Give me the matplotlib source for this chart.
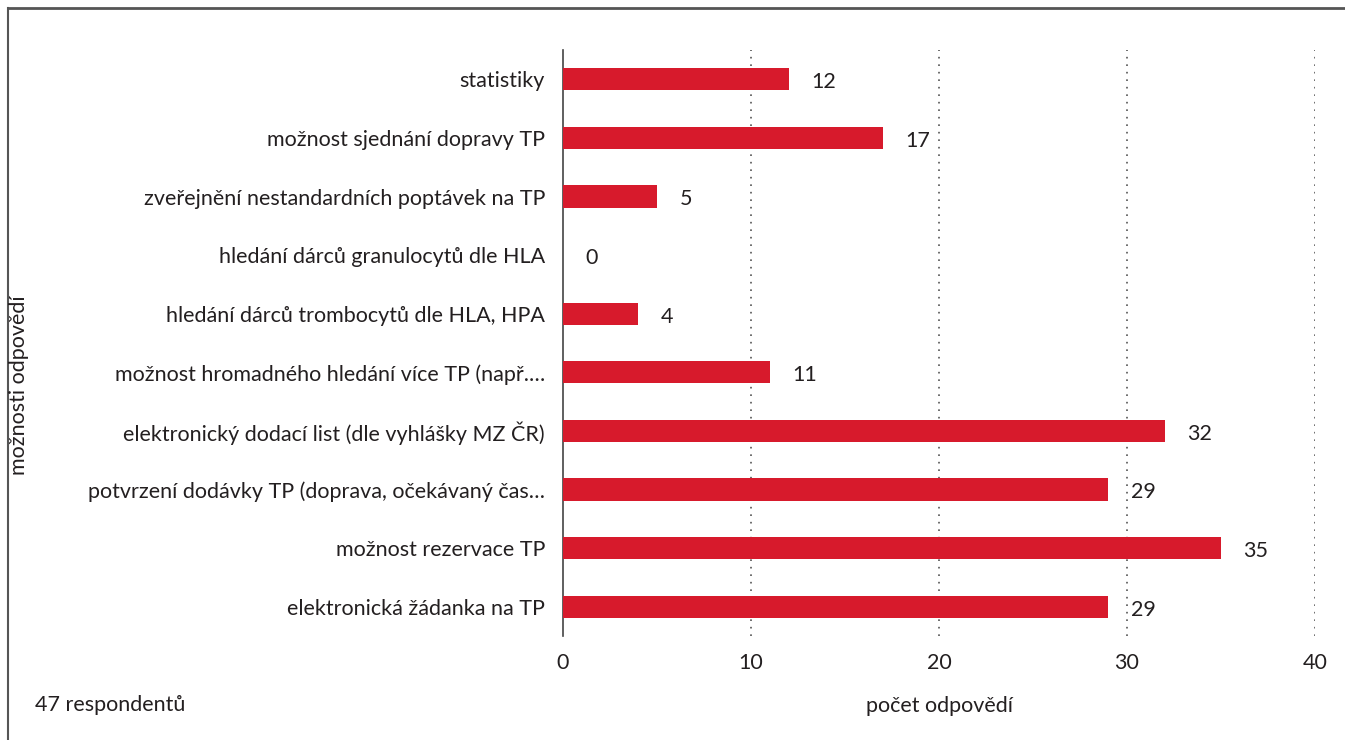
import numpy as np
import matplotlib.pyplot as plt
from matplotlib.lines import Line2D

plt.rcParams['font.family'] = ['Lato', 'DejaVu Sans']

# survey answers, top to bottom as shown
labels = [
    'statistiky',
    'možnost sjednání dopravy TP',
    'zveřejnění nestandardních poptávek na TP',
    'hledání dárců granulocytů dle HLA',
    'hledání dárců trombocytů dle HLA, HPA',
    'možnost hromadného hledání více TP (např.…',
    'elektronický dodací list (dle vyhlášky MZ ČR)',
    'potvrzení dodávky TP (doprava, očekávaný čas…',
    'možnost rezervace TP',
    'elektronická žádanka na TP',
]
counts = [12, 17, 5, 0, 4, 11, 32, 29, 35, 29]
xticks = [0, 10, 20, 30, 40]

red = '#d71a2c'
txt = '#231f20'
fs = 15.5

fig = plt.figure(figsize=(13.45, 7.4), dpi=100)
ax = fig.add_axes([0.4186, 0.1405, 0.5591, 0.7919])

y = np.arange(len(labels))
ax.barh(y, counts, height=0.38, color=red, zorder=3)
for yi, c in zip(y, counts):
    ax.text(c + 1.2, yi + 0.05, str(c), va='center', ha='left',
            fontsize=fs, color=txt)

ax.set_ylim(len(labels) - 0.5, -0.5)
ax.set_xlim(0, 40)
ax.set_yticks(y)
ax.set_yticklabels(labels, fontsize=fs, color=txt)
ax.set_xticks(xticks)
ax.set_xticklabels([str(t) for t in xticks], fontsize=fs, color=txt)
ax.tick_params(axis='both', length=0)
ax.tick_params(axis='y', pad=13)
ax.tick_params(axis='x', pad=12)

for t in xticks[1:]:
    ax.axvline(t, color='#555555', lw=1.2, ls=(0, (1, 3.5)), zorder=1)

for s in ['top', 'right', 'bottom']:
    ax.spines[s].set_visible(False)
ax.spines['left'].set_color('#444444')
ax.spines['left'].set_linewidth(1.2)

fig.text(940 / 1345, 1 - 706 / 740, 'počet odpovědí', ha='center', va='center',
         fontsize=fs, color=txt)
fig.text(35 / 1345, 1 - 705 / 740, '47 respondentů', ha='left', va='center',
         fontsize=fs, color=txt)
fig.text(19 / 1345, 1 - 385 / 740, 'možnosti odpovědí', ha='center', va='center',
         rotation=90, fontsize=fs, color=txt)

# frame around the figure (only top and left edge visible)
fig.add_artist(Line2D([8 / 1345, 1], [1 - 8 / 740, 1 - 8 / 740],
                      transform=fig.transFigure, color='#555555', lw=2))
fig.add_artist(Line2D([8 / 1345, 8 / 1345], [0, 1 - 8 / 740],
                      transform=fig.transFigure, color='#555555', lw=1.5))

fig.savefig('out.png', dpi=100)
